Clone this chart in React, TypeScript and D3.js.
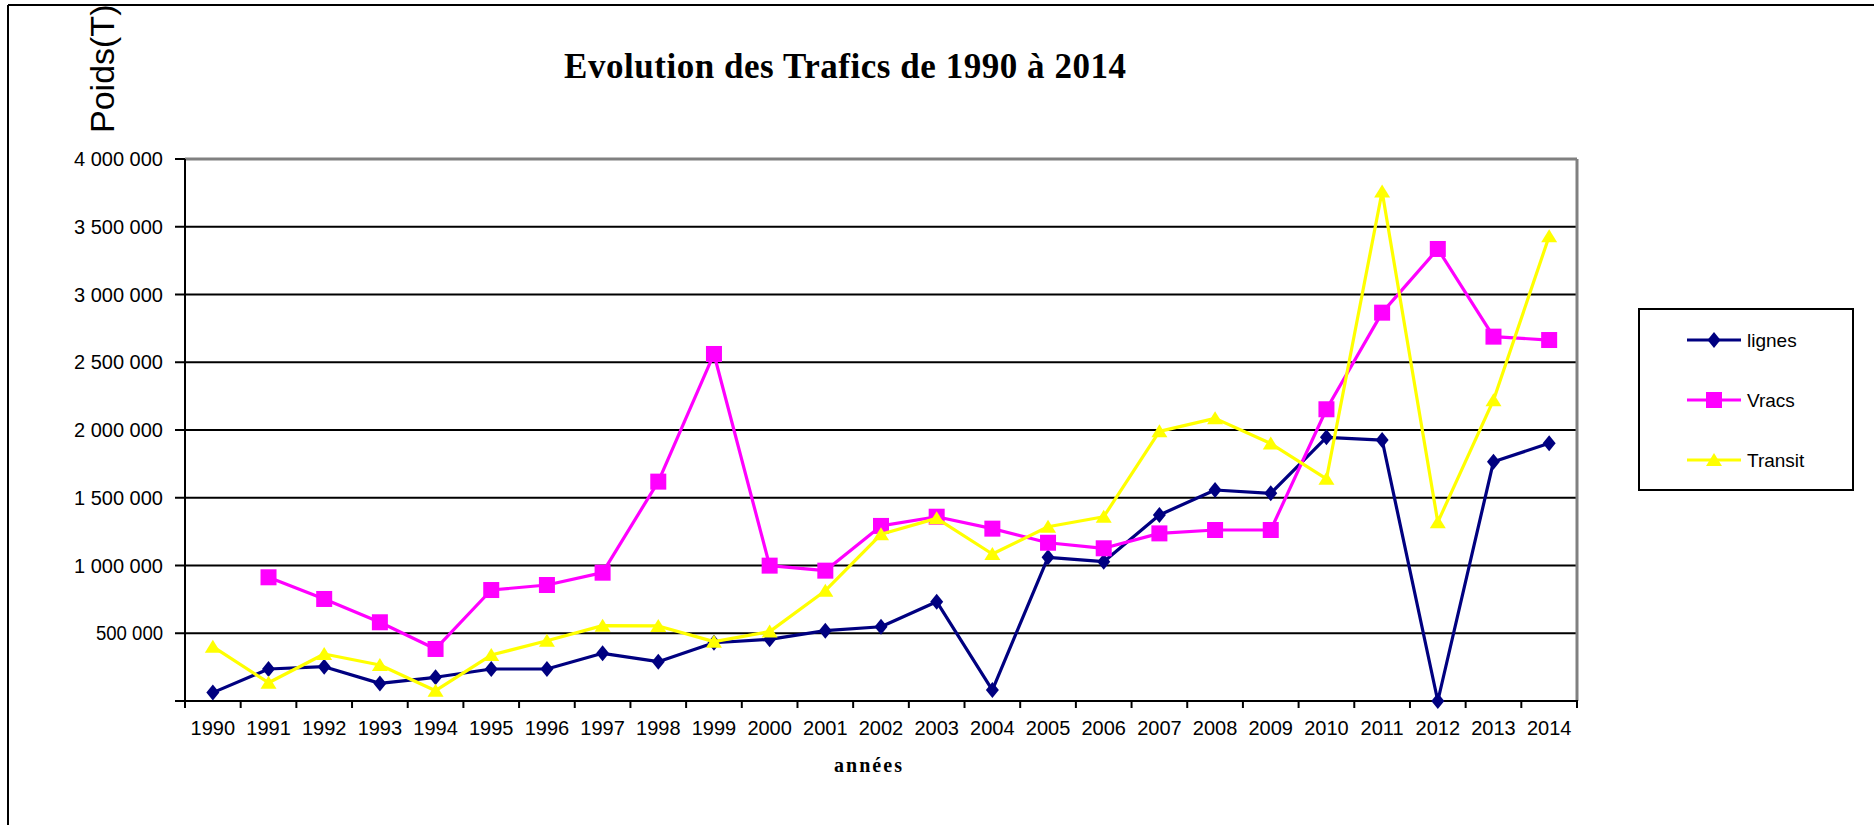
import React from 'react';
import * as d3 from 'd3';

// values (tonnes)
const years = ['1990', '1991', '1992', '1993', '1994', '1995', '1996', '1997', '1998', '1999', '2000', '2001', '2002',
    '2003', '2004', '2005', '2006', '2007', '2008', '2009', '2010', '2011', '2012', '2013', '2014'];
const lignes = [62000, 236000, 253000, 130000, 175000, 236000, 236000, 352000, 290000, 430000, 455000, 519000, 548000,
    733000, 81000, 1060000, 1028000, 1373000, 1557000, 1533000, 1946000, 1926000, 0, 1766000, 1902000];
const vracs = [null, 913000, 753000, 581000, 384000, 819000, 856000, 947000, 1619000, 2561000, 999000, 962000, 1292000,
    1360000, 1272000, 1168000, 1127000, 1237000, 1262000, 1262000, 2153000, 2866000, 3336000, 2689000, 2664000];
const transit = [401000, 135000, 347000, 266000, 76000, 339000, 445000, 556000, 554000, 438000, 512000, 814000, 1230000,
    1348000, 1085000, 1286000, 1360000, 1990000, 2086000, 1900000, 1640000, 3760000, 1320000, 2220000, 3430000];
const yTicks = [0, 500000, 1000000, 1500000, 2000000, 2500000, 3000000, 3500000, 4000000];
const seriesNames = ['lignes', 'Vracs', 'Transit'];

const W = 1874, H = 825;
const plot = { left: 185, right: 1577, top: 159, bottom: 701 };
const sans = 'Liberation Sans, Arial, sans-serif';
const serif = 'Liberation Serif, Times New Roman, serif';

const x = d3.scaleBand().domain(years).range([plot.left, plot.right]);
const y = d3.scaleLinear().domain([0, 4000000]).range([plot.bottom, plot.top]);
const cx = (i: number) => x(years[i])! + x.bandwidth() / 2;
const fmt = (v: number) => d3.format(',')(v).replace(/,/g, '\u00a0');

const series = [
    { name: seriesNames[0], values: lignes, color: '#000080', marker: 'diamond' },
    { name: seriesNames[1], values: vracs, color: '#ff00ff', marker: 'square' },
    { name: seriesNames[2], values: transit, color: '#ffff00', marker: 'triangle' },
];

function Marker({ type, color, tx, ty }: { type: string; color: string; tx: number; ty: number }) {
    if (type === 'square') {
        return <rect x={tx - 8} y={ty - 8} width={16} height={16} fill={color} />;
    }
    if (type === 'triangle') {
        return <path d={`M${tx},${ty - 7}L${tx + 8},${ty + 6}L${tx - 8},${ty + 6}Z`} fill={color} />;
    }
    return <path d={`M${tx},${ty - 8}L${tx + 6.5},${ty}L${tx},${ty + 8}L${tx - 6.5},${ty}Z`} fill={color} />;
}

export default function App() {
    const line = d3.line<number | null>()
        .defined(d => d != null)
        .x((d, i) => cx(i))
        .y(d => y(d as number));

    return (
        <svg width={W} height={H} style={{ position: 'absolute', left: 0, top: 0, background: '#fff' }}>
            <text transform="translate(114,133) rotate(-90)" fontFamily={sans} fontSize={34}>Poids(T)</text>
            {/* the frame cuts the axis title at the top */}
            <rect x={0} y={0} width={W} height={5} fill="#fff" />

            {/* outer frame */}
            <line x1={8} y1={5} x2={W} y2={5} stroke="#000" strokeWidth={2} />
            <line x1={8} y1={5} x2={8} y2={H} stroke="#000" strokeWidth={2} />

            <text x={845} y={78} textAnchor="middle" fontFamily={serif} fontWeight="bold" fontSize={35}
                textLength={562} lengthAdjust="spacing">Evolution des Trafics de 1990 à 2014</text>

            {/* grid + y ticks */}
            {yTicks.map(t => (
                <g key={t}>
                    {t > 0 && t < 4000000 &&
                        <line x1={plot.left} x2={plot.right} y1={y(t)} y2={y(t)} stroke="#000" strokeWidth={2} />}
                    <line x1={plot.left - 10} x2={plot.left} y1={y(t)} y2={y(t)} stroke="#000" strokeWidth={2} />
                    {t > 0 &&
                        <text x={163} y={y(t)} dy="0.36em" textAnchor="end" fontFamily={sans} fontSize={20}
                            textLength={t >= 1000000 ? 89 : 67} lengthAdjust="spacingAndGlyphs">{fmt(t)}</text>}
                </g>
            ))}
            <line x1={plot.left} x2={plot.right} y1={plot.top} y2={plot.top} stroke="#808080" strokeWidth={3} />
            <line x1={plot.right} x2={plot.right} y1={plot.top} y2={plot.bottom} stroke="#808080" strokeWidth={3} />
            <line x1={plot.left} x2={plot.left} y1={plot.top} y2={plot.bottom + 1} stroke="#000" strokeWidth={2} />
            <line x1={plot.left} x2={plot.right + 1} y1={plot.bottom} y2={plot.bottom} stroke="#000" strokeWidth={2} />

            {/* x ticks */}
            {years.map((yr, i) => (
                <g key={yr}>
                    <line x1={x(yr)!} x2={x(yr)!} y1={plot.bottom} y2={plot.bottom + 7} stroke="#000" strokeWidth={2} />
                    <text x={cx(i)} y={735} textAnchor="middle" fontFamily={sans} fontSize={20}>{yr}</text>
                </g>
            ))}
            <line x1={plot.right} x2={plot.right} y1={plot.bottom} y2={plot.bottom + 7} stroke="#000" strokeWidth={2} />

            <text x={868} y={772} textAnchor="middle" fontFamily={serif} fontWeight="bold" fontSize={20}
                textLength={68} lengthAdjust="spacing">années</text>

            {/* series */}
            {series.map(s => (
                <g key={s.name}>
                    <path d={line(s.values) || ''} fill="none" stroke={s.color} strokeWidth={3.2} strokeLinejoin="round" />
                    {s.values.map((v, i) => v == null ? null :
                        <Marker key={i} type={s.marker} color={s.color} tx={cx(i)} ty={y(v)} />)}
                </g>
            ))}

            {/* legend */}
            <rect x={1639} y={309} width={214} height={181} fill="#fff" stroke="#000" strokeWidth={2} />
            {series.map((s, i) => {
                const ly = 340 + i * 60;
                return (
                    <g key={s.name}>
                        <line x1={1687} x2={1741} y1={ly} y2={ly} stroke={s.color} strokeWidth={3.2} />
                        <Marker type={s.marker} color={s.color} tx={1714} ty={ly} />
                        <text x={1747} y={ly} dy="0.36em" fontFamily={sans} fontSize={19}>{s.name}</text>
                    </g>
                );
            })}
        </svg>
    );
}
